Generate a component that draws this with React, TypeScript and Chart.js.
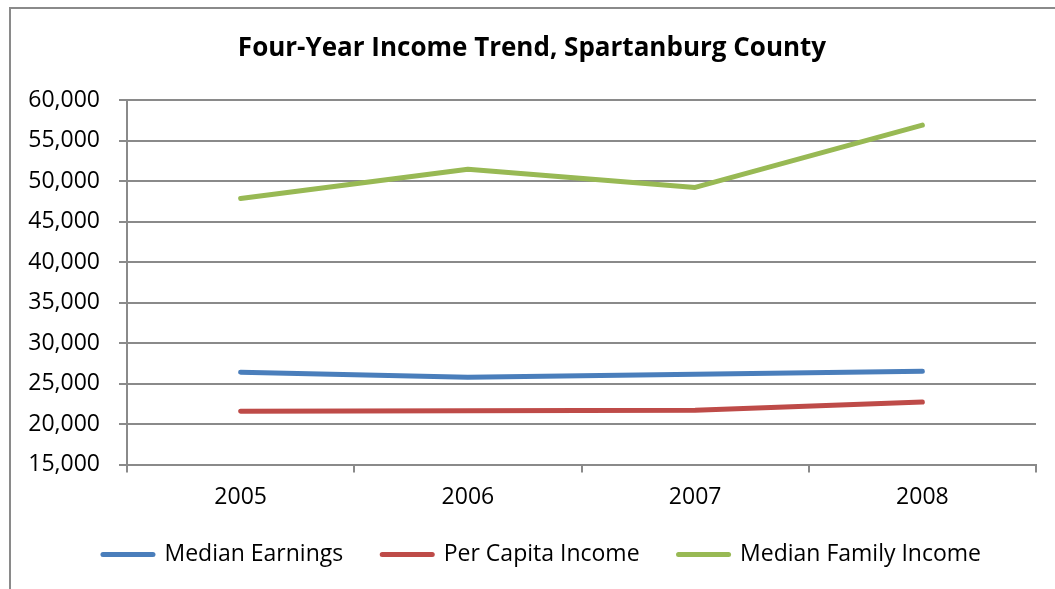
import { useEffect, useRef } from 'react';
import { Chart, registerables } from 'chart.js';

Chart.register(...registerables);

const years = ['2005', '2006', '2007', '2008'];
const medianEarnings = [26400, 25780, 26150, 26520];
const perCapitaIncome = [21570, 21640, 21700, 22720];
const medianFamilyIncome = [47850, 51440, 49210, 56900];
const seriesNames = ['Median Earnings', 'Per Capita Income', 'Median Family Income'];
const seriesColors = ['#4A7EBB', '#BE4B48', '#98B954'];
const yMin = 15000;
const yMax = 60000;
const yStep = 5000;
const titleText = 'Four-Year Income Trend, Spartanburg County';

const FONT = "'Open Sans', sans-serif";
const GRID = '#8a8a8a';
const LINE_W = 5;

const framePlugin = {
  id: 'frame',
  afterLayout(chart: any) {
    // nudge title and legend horizontally to match reference layout
    if (chart.titleBlock) {
      chart.titleBlock.left += 14;
      chart.titleBlock.right += 14;
    }
    if (chart.legend) {
      chart.legend.left += 24;
      chart.legend.right += 24;
    }
  },
  beforeDraw(chart: any) {
    const ctx = chart.ctx;
    ctx.save();
    ctx.fillStyle = '#ffffff';
    ctx.fillRect(0, 0, chart.width, chart.height);
    ctx.strokeStyle = GRID;
    ctx.lineWidth = 2;
    ctx.beginPath();
    ctx.moveTo(10, chart.height + 10);
    ctx.lineTo(10, 8);
    ctx.lineTo(chart.width + 10, 8);
    ctx.stroke();
    ctx.restore();
  },
};

export default function App() {
  const ref = useRef<HTMLCanvasElement>(null);
  useEffect(() => {
    const values = [medianEarnings, perCapitaIncome, medianFamilyIncome];
    const chart = new Chart(ref.current!, {
      type: 'line',
      data: {
        labels: years,
        datasets: values.map((d, i) => ({
          label: seriesNames[i],
          data: d,
          borderColor: seriesColors[i],
          backgroundColor: seriesColors[i],
          borderWidth: LINE_W,
          borderCapStyle: 'round',
          borderJoinStyle: 'round',
          pointRadius: 0,
          pointHoverRadius: 0,
          tension: 0,
        })),
      },
      options: {
        responsive: false,
        animation: false,
        devicePixelRatio: 1,
        layout: { padding: { left: 0, right: 19, top: 0, bottom: 13 } },
        plugins: {
          title: {
            display: true,
            text: titleText,
            color: '#000',
            font: { family: FONT, size: 26, weight: 'bold' },
            padding: { top: 32.8, bottom: 36 },
          },
          legend: {
            position: 'bottom',
            labels: {
              color: '#000',
              font: { family: FONT, size: 23 },
              usePointStyle: true,
              pointStyle: 'line',
              pointStyleWidth: 50,
              boxHeight: 23,
              padding: 39,
              generateLabels: (c: any) =>
                c.data.datasets.map((ds: any, i: number) => ({
                  text: ds.label,
                  fillStyle: ds.borderColor,
                  strokeStyle: ds.borderColor,
                  lineWidth: LINE_W,
                  lineCap: 'round',
                  pointStyle: 'line',
                  fontColor: '#000',
                  hidden: false,
                  datasetIndex: i,
                })),
            },
          },
          tooltip: { enabled: false },
        },
        scales: {
          x: {
            offset: true,
            grid: {
              offset: true,
              drawOnChartArea: false,
              drawTicks: true,
              tickLength: 8,
              color: GRID,
              lineWidth: 2,
            },
            border: { color: GRID, width: 2 },
            ticks: { color: '#000', font: { family: FONT, size: 23 }, padding: 11, maxRotation: 0 },
            afterFit: (s: any) => {
              s.height = 39.5;
            },
          },
          y: {
            min: yMin,
            max: yMax,
            ticks: {
              stepSize: yStep,
              color: '#000',
              font: { family: FONT, size: 23 },
              padding: 19,
              callback: (v: any) => Number(v).toLocaleString('en-US'),
            },
            grid: { color: GRID, lineWidth: 2, tickLength: 8 },
            border: { color: GRID, width: 2 },
            afterFit: (s: any) => {
              s.width = 127;
            },
          },
        },
      },
      plugins: [framePlugin],
    } as any);
    return () => chart.destroy();
  }, []);
  return (
    <div style={{ position: 'absolute', left: 0, top: 0, width: 1055, height: 589, overflow: 'hidden' }}>
      <canvas ref={ref} width={1055} height={589} style={{ display: 'block', width: 1055, height: 589 }} />
    </div>
  );
}
